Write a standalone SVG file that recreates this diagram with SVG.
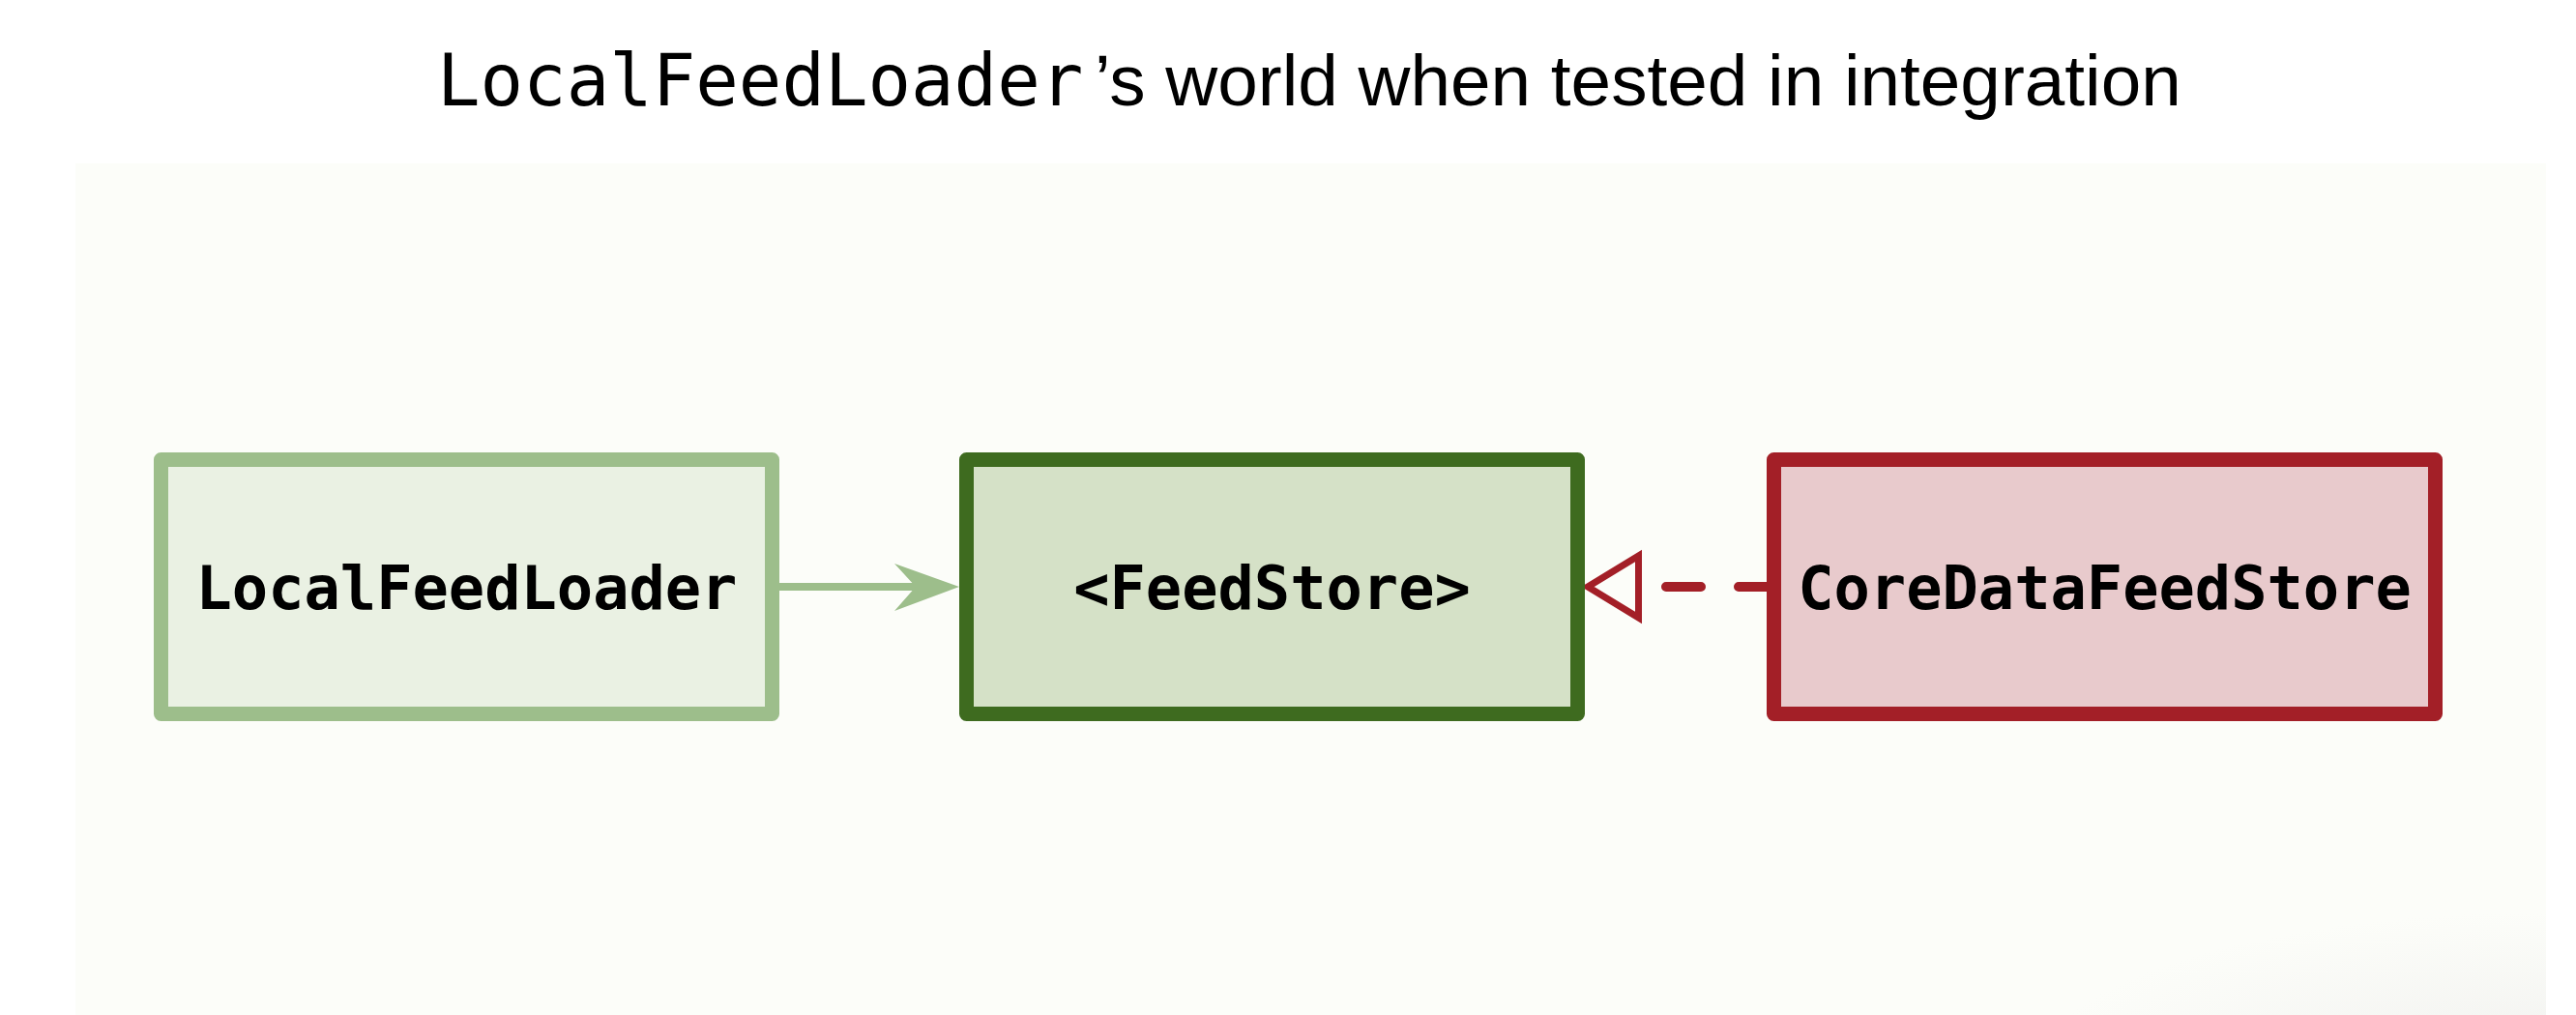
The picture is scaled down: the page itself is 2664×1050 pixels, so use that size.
<svg xmlns="http://www.w3.org/2000/svg" width="2664" height="1050" viewBox="0 0 2664 1050">
<defs>
<style>
.mono{font-family:"DejaVu Sans Mono","Liberation Mono",monospace;}
.sans{font-family:"Liberation Sans",Arial,sans-serif;}
.label{font-family:"DejaVu Sans Mono","Liberation Mono",monospace;font-weight:bold;font-size:62px;text-anchor:middle;fill:#000;}
.box{stroke-width:15;stroke-linejoin:round;}
</style>
<radialGradient id="corner" cx="2633" cy="1100" r="520" gradientUnits="userSpaceOnUse" gradientTransform="translate(2633 1100) scale(1 0.3) translate(-2633 -1100)">
<stop offset="0" stop-color="#efefed" stop-opacity="0.8"/>
<stop offset="1" stop-color="#efefed" stop-opacity="0"/>
</radialGradient>
</defs>
<rect width="2664" height="1050" fill="#ffffff"/>
<rect x="78" y="169" width="2555" height="881" fill="#fcfdf9"/>
<rect x="2100" y="900" width="533" height="150" fill="url(#corner)"/>
<g id="title">
<text class="mono" x="452" y="109" font-size="74">LocalFeedLoader</text>
<text class="sans" x="1132" y="109" font-size="74.7">’s world when tested in integration</text>
</g>
<g id="connectors">
<line x1="806" y1="607" x2="950" y2="607" stroke="#9dbe8b" stroke-width="8"/>
<polygon points="992,607 925,583 947,607 925,632" fill="#9dbe8b"/>
<path d="M1834 607 L1700 607" stroke="#a31f27" stroke-width="10" stroke-linecap="round" stroke-dasharray="36 39" fill="none"/>
<polygon points="1642,607 1694.5,575 1694.5,639" fill="#fcfdf9" stroke="#a31f27" stroke-width="7"/>
</g>
<g id="node-localfeedloader">
<rect class="box" x="166.5" y="475.5" width="632" height="263" fill="#eaf1e3" stroke="#9dbe8b"/>
<text class="label" x="482.5" y="630">LocalFeedLoader</text>
</g>
<g id="node-feedstore">
<rect class="box" x="999.5" y="475.5" width="632" height="263" fill="#d5e1c7" stroke="#3e6b1f"/>
<text class="label" x="1315.5" y="630">&lt;FeedStore&gt;</text>
</g>
<g id="node-coredatafeedstore">
<rect class="box" x="1834.5" y="475.5" width="684" height="263" fill="#e8cacc" stroke="#a31f27"/>
<text class="label" x="2176.5" y="630">CoreDataFeedStore</text>
</g>
</svg>
